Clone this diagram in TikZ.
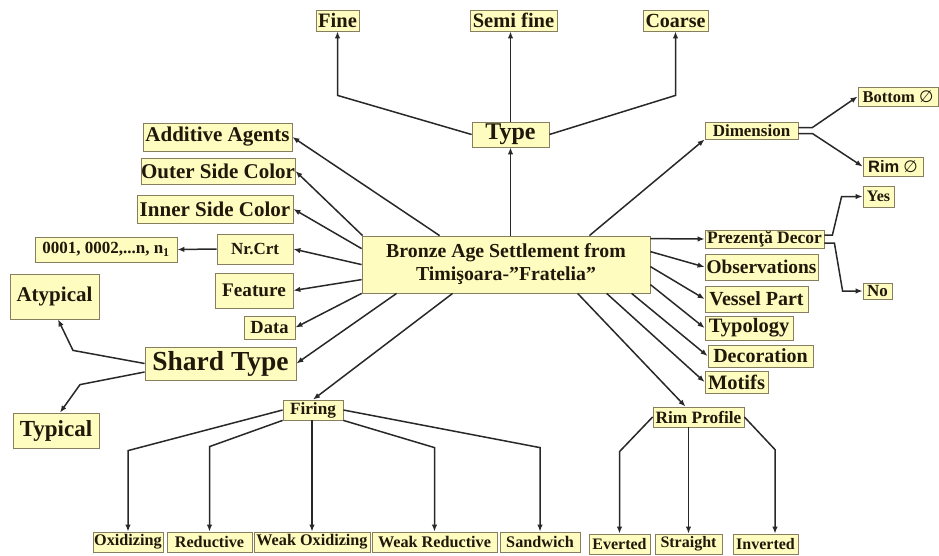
\documentclass[tikz,border=0pt]{standalone}
\usepackage{fontspec}
\setmainfont{Liberation Serif}
\newfontfamily\sansbold{Liberation Sans}
\newfontfamily\diamfont{DejaVu Sans}
\usepackage{xcolor}
\usepackage{tikz}
\usetikzlibrary{arrows.meta,calc}
\definecolor{boxfill}{RGB}{255,252,192}
\definecolor{boxline}{RGB}{135,125,95}
\definecolor{inkbrown}{RGB}{32,24,10}
\definecolor{linkgray}{RGB}{40,40,40}
\newcommand{\emptydiam}{{\diamfont\mdseries ∅}}

\begin{document}
\begin{tikzpicture}[x=1pt,y=-1pt,
	box/.style={draw=boxline,line width=0.8pt,fill=boxfill,text=inkbrown,inner sep=0pt,font=\bfseries},
	txt/.style={font=\fontsize{#1}{#1}\selectfont\bfseries},
	conn/.style={draw=linkgray,line width=1.5pt,-{Latex[length=7pt,width=5.5pt]}}]
			\useasboundingbox (0,0) rectangle (939,555);
			
			\node[box,font=\fontsize{19.8}{23}\selectfont\bfseries,align=center,minimum width=288,minimum height=57] (bronze) at (506,264.5) {Bronze Age Settlement from\\Timişoara-”Fratelia”};
			
			\node[box,txt=24,minimum width=77,minimum height=25] (type) at (510.5,134.5) {Type};
			\node[box,txt=20.5,minimum width=43,minimum height=21] (fine) at (337.5,20.5) {Fine};
			\node[box,txt=20.5,minimum width=87,minimum height=21] (semifine) at (513.5,20.5) {Semi fine};
			\node[box,txt=20,minimum width=65,minimum height=21] (coarse) at (675.5,20.5) {Coarse};
			
			\node[box,txt=21,minimum width=149,minimum height=28] (additive) at (217.5,137) {Additive Agents};
			\node[box,txt=21,minimum width=150,minimum height=26] (outer) at (218,171) {Outer Side Color};
			\node[box,txt=21,minimum width=156,minimum height=28] (inner) at (215,209) {Inner Side Color};
			\node[box,txt=17,minimum width=76,minimum height=30] (nrcrt) at (255,249) {Nr.Crt};
			\node[box,txt=17,minimum width=142,minimum height=25] (counter) at (106,249.5) {0001, 0002,...n, n\textsubscript{1}};
			\node[box,txt=19.2,minimum width=78,minimum height=35] (feature) at (254,290.5) {Feature};
			\node[box,txt=18.5,minimum width=51,minimum height=23] (data) at (269.5,327.5) {Data};
			\node[box,txt=27.5,minimum width=151,minimum height=33] (shard) at (220.5,363.5) {Shard Type};
			\node[box,txt=21,minimum width=89,minimum height=45] (atypical) at (54.5,296.5) {Atypical};
			\node[box,txt=23,minimum width=86,minimum height=35] (typical) at (56,430.5) {Typical};
			
			\node[box,txt=17,minimum width=93,minimum height=17] (dimension) at (751.5,130.5) {Dimension};
			\node[box,txt=16.5,minimum width=80,minimum height=19] (bottomd) at (898,96.5) {Bottom \emptydiam};
			\node[box,txt=16.5,minimum width=60,minimum height=19] (rimd) at (893,166.5) {{\sansbold Rim} \emptydiam};
			\node[box,txt=17.5,minimum width=119,minimum height=18] (prezenta) at (764.5,239) {Prezenţă Decor};
			\node[box,txt=16,minimum width=31,minimum height=21] (yes) at (878.5,196.5) {Yes};
			\node[box,txt=17,minimum width=29,minimum height=16] (no) at (877.5,291) {No};
			\node[box,txt=19.4,minimum width=113,minimum height=26] (observ) at (761.5,267) {Observations};
			\node[box,txt=20,minimum width=103,minimum height=26] (vessel) at (756.5,299) {Vessel Part};
			\node[box,txt=20.5,minimum width=88,minimum height=24] (typology) at (749,328) {Typology};
			\node[box,txt=20,minimum width=105,minimum height=22] (decoration) at (760.5,356) {Decoration};
			\node[box,txt=20.5,minimum width=63,minimum height=22] (motifs) at (736.5,382) {Motifs};
			
			\node[box,txt=17.3,minimum width=91,minimum height=20] (rimprofile) at (698.5,417) {Rim Profile};
			\node[box,txt=16,minimum width=61,minimum height=20] (everted) at (619.5,544) {Everted};
			\node[box,txt=16,minimum width=67,minimum height=20] (straight) at (688.5,544) {Straight};
			\node[box,txt=16,minimum width=65,minimum height=20] (inverted) at (765.5,544) {Inverted};
			
			\node[box,txt=17.2,minimum width=60,minimum height=20] (firing) at (313,410) {Firing};
			\node[box,txt=16.2,minimum width=70,minimum height=20] (oxidizing) at (128,542) {Oxidizing};
			\node[box,txt=16.2,minimum width=85,minimum height=20] (reductive) at (209.5,542) {Reductive};
			\node[box,txt=16.2,minimum width=116,minimum height=20] (weakox) at (312,542) {Weak Oxidizing};
			\node[box,txt=16.2,minimum width=125,minimum height=20] (weakred) at (434.5,542) {Weak Reductive};
			\node[box,txt=16.2,minimum width=80,minimum height=20] (sandwich) at (540,542) {Sandwich};
			
			\draw[conn] (bronze.north -| type.south) -- (type.south);
			\draw[conn] (type.west) -- ($(fine.south)+(0,64)$) -- (fine.south);
			\draw[conn] (type.north) -- (type.north |- semifine.south);
			\draw[conn] (type.east) -- ($(coarse.south)+(0,64)$) -- (coarse.south);
			
			\draw[conn] ($(bronze.north west)+(78,0)$) -- (additive.east);
			\draw[conn] ($(bronze.north west)+(1,0)$) -- (outer.east);
			\draw[conn] ($(bronze.north west)+(0,13)$) -- (inner.east);
			\draw[conn] ($(bronze.north west)+(0,29)$) -- (nrcrt.east);
			\draw[conn] (nrcrt.west) -- (counter.east);
			\draw[conn] ($(bronze.north west)+(0,44)$) -- (feature.east);
			\draw[conn] (bronze.south west) -- (data.east);
			\draw[conn] ($(bronze.south west)+(35,0)$) -- (shard.east);
			\draw[conn] (shard.west) -- ($(atypical.south)+(18.5,31)$) -- ($(atypical.south)+(3.5,0)$);
			\draw[conn] ($(shard.west)+(0,8.5)$) -- ($(typical.north)+(24,-28)$) -- ($(typical.north)+(4,0)$);
			
			\draw[conn] ($(bronze.south west)+(91,0)$) -- (firing.north);
			\draw[conn] (firing.west) -- ($(oxidizing.north)+(0,-81)$) -- (oxidizing.north);
			\draw[conn] (firing.south west) -- ($(reductive.north)+(0,-85)$) -- (reductive.north);
			\draw[conn] (firing.south -| weakox.north) -- (weakox.north);
			\draw[conn] (firing.south east) -- ($(weakred.north)+(0,-84)$) -- (weakred.north);
			\draw[conn] (firing.east) -- ($(sandwich.north)+(0,-84)$) -- (sandwich.north);
			
			\draw[conn] ($(bronze.south west)+(216,0)$) -- ($(rimprofile.north)+(-13,0)$);
			\draw[conn] (rimprofile.west) -- ($(everted.north)+(0,-82)$) -- (everted.north);
			\draw[conn] (rimprofile.south -| straight.north) -- (straight.north);
			\draw[conn] (rimprofile.east) -- ($(inverted.north)+(9.5,-84)$) -- ($(inverted.north)+(9.5,0)$);
			
			\draw[conn] ($(bronze.south west)+(245,0)$) -- (motifs.west);
			\draw[conn] ($(bronze.south west)+(270,0)$) -- (decoration.west);
			\draw[conn] ($(bronze.north east)+(0,49)$) -- (typology.west);
			\draw[conn] ($(bronze.north east)+(0,31)$) -- (vessel.west);
			\draw[conn] ($(bronze.north east)+(0,16)$) -- (observ.west);
			\draw[conn] ($(bronze.north east)+(0,3)$) -- (prezenta.west);
			\draw[conn] ($(bronze.north east)+(-61,0)$) -- (dimension.south west);
			
			\draw[conn] ($(dimension.east)+(0,-3)$) -- ++(14,0) -- (bottomd.west);
			\draw[conn] ($(dimension.east)+(0,3)$) -- ++(14,0) -- (rimd.west);
			\draw[conn] ($(prezenta.east)+(0,-4)$) -- ++(8,0) -- ($(yes.west)+(-21,0)$) -- (yes.west);
			\draw[conn] ($(prezenta.east)+(0,4)$) -- ++(10,0) -- ($(no.west)+(-20,0)$) -- (no.west);
			
		\end{tikzpicture}
\end{document}
